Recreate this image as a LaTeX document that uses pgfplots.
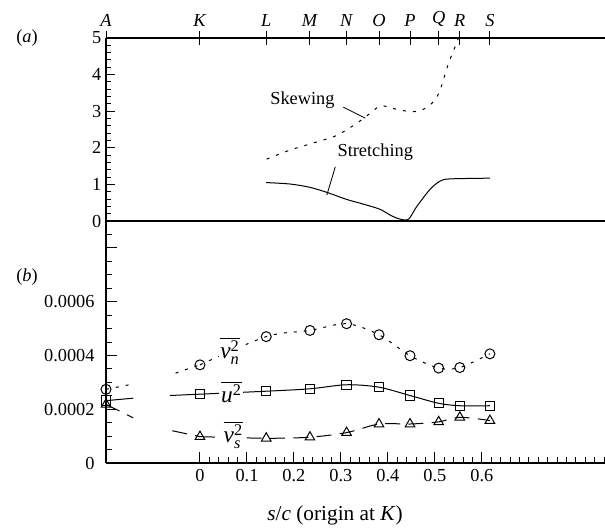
\documentclass[border=0pt]{standalone}
\usepackage{pgfplots}
\pgfplotsset{compat=1.18}
\usepackage{fontspec}
\setmainfont{Liberation Serif}
\newcommand{\tl}{\fontsize{11}{13}\selectfont}
\begin{document}
\fontsize{11}{13}\selectfont
\begin{tikzpicture}
\path[use as bounding box] (0,0) rectangle (363pt,318.6pt);
\pgfplotsset{
  every axis/.append style={scale only axis, width=299.4pt, xmin=-0.2, xmax=0.862,
    anchor=south west, clip mode=individual,
    every tick/.style={black, line width=0.6pt}},
  dotsty/.style={black, line width=0.6pt, dash pattern=on 1.8pt off 4.2pt},
  dashsty/.style={black, line width=0.6pt, dash pattern=on 9pt off 5pt},
  solsty/.style={black, line width=0.6pt},
}
% ---------------- Panel (a) ----------------
\begin{axis}[at={(63.6pt,186pt)}, height=109.8pt, ymin=0, ymax=5,
  axis x line=none, axis y line*=left, axis line style={line width=1.3pt},
  ytick={0,1,2,3,4,5}, yticklabels={\tl 0,\tl 1,\tl 2,\tl 3,\tl 4,\tl 5},
  minor ytick={0.2,0.4,0.6,0.8,1.2,1.4,1.6,1.8,2.2,2.4,2.6,2.8,3.2,3.4,3.6,3.8,4.2,4.4,4.6,4.8},
  tick align=inside, major tick length=5.4pt, minor tick length=3pt,
  yticklabel style={xshift=1pt},
]
\addplot[dotsty, smooth] coordinates {
 (0.142,1.69) (0.192,1.94) (0.238,2.12) (0.284,2.30) (0.312,2.49) (0.348,2.80)
 (0.383,3.14) (0.408,3.08) (0.447,2.99) (0.472,3.03) (0.497,3.26) (0.511,3.58)
 (0.529,4.31) (0.543,4.76) (0.556,5.2)};
\addplot[solsty, smooth] coordinates {
 (0.141,1.05) (0.192,1.01) (0.234,0.92) (0.273,0.77) (0.312,0.59) (0.348,0.46)
 (0.383,0.32) (0.408,0.14) (0.426,0.05) (0.444,0.05) (0.461,0.39) (0.490,0.87)
 (0.511,1.09) (0.532,1.15) (0.617,1.17)};
\draw[line width=1.5pt] (rel axis cs:0,0) -- (rel axis cs:1,0);
\node at (axis cs:0.218,3.31) {Skewing};
\draw[line width=0.5pt] (axis cs:0.305,3.11) -- (axis cs:0.352,2.81);
\node at (axis cs:0.373,1.87) {Stretching};
\draw[line width=0.5pt] (axis cs:0.288,1.48) -- (axis cs:0.270,0.71);
\end{axis}
% top letters / ticks
\begin{axis}[at={(63.6pt,186pt)}, height=109.8pt, ymin=0, ymax=5,
  axis y line=none, axis x line*=top, axis line style={line width=1.5pt},
  xtick={-0.2,0,0.141,0.234,0.312,0.381,0.447,0.508,0.553,0.617},
  xticklabels={\tl\textit{A},\tl\textit{K},\tl\textit{L},\tl\textit{M},\tl\textit{N},\tl\textit{O},\tl\textit{P},\tl\textit{Q},\tl\textit{R},\tl\textit{S}},
  tick align=center, major tick length=8.4pt,
  xticklabel style={yshift=-1pt},
]
\end{axis}
% ---------------- Panel (b) ----------------
\begin{axis}[at={(63.6pt,40.8pt)}, height=145.2pt, ymin=0, ymax=0.0009,
  axis x line*=bottom, axis y line*=left, axis line style={line width=1.3pt},
  xtick={0,0.1,0.2,0.3,0.4,0.5,0.6}, xticklabels={\tl 0,\tl 0.1,\tl 0.2,\tl 0.3,\tl 0.4,\tl 0.5,\tl 0.6},
  minor xtick={0.02,0.04,0.06,0.08,0.12,0.14,0.16,0.18,0.22,0.24,0.26,0.28,0.32,0.34,0.36,0.38,0.42,0.44,0.46,0.48,0.52,0.54,0.56,0.58,0.62,0.64,0.66,0.68,0.7,0.72,0.74,0.76,0.78,0.8,0.82,0.84,0.86},
  ytick={0,0.0002,0.0004,0.0006,0.0008}, yticklabels={\tl 0,\tl 0.0002,\tl 0.0004,\tl 0.0006,{}},
  minor ytick={0.00005,0.0001,0.00015,0.00025,0.0003,0.00035,0.00045,0.0005,0.00055,0.00065,0.0007,0.00075,0.00085,0.0009},
  scaled y ticks=false,
  tick align=inside, major tick length=6.5pt, minor tick length=3.6pt,
  yticklabel style={xshift=-3pt},
]
% v_n^2 (circles)
\addplot[dotsty, smooth, mark=o, mark size=3pt, mark options={solid}] coordinates {
 (0,0.000365) (0.141,0.000470) (0.234,0.000493) (0.312,0.000518) (0.381,0.000477)
 (0.447,0.000399) (0.508,0.000353) (0.553,0.000355) (0.617,0.000406)};
\addplot[dotsty, smooth] coordinates {(-0.2,0.000274) (-0.171,0.000284) (-0.142,0.000294)};
\addplot[dotsty, smooth] coordinates {(-0.052,0.000334) (-0.026,0.000350) (0,0.000365)};
\addplot[only marks, mark=o, mark size=3pt, line width=0.6pt] coordinates {(-0.2,0.000274)};
% u^2 (squares)
\addplot[solsty, smooth, mark=square, mark size=2.8pt] coordinates {
 (0,0.000256) (0.141,0.000267) (0.234,0.000276) (0.312,0.000291) (0.381,0.000282)
 (0.447,0.000251) (0.508,0.000222) (0.553,0.000213) (0.617,0.000213)};
\addplot[solsty] coordinates {(-0.2,0.000232) (-0.142,0.000241)};
\addplot[solsty] coordinates {(-0.064,0.000251) (0,0.000256)};
\addplot[only marks, mark=square, mark size=2.8pt, line width=0.6pt] coordinates {(-0.2,0.000232)};
% v_s^2 (triangles)
\addplot[dashsty, smooth, mark=triangle, mark size=3.3pt, mark options={solid}] coordinates {
 (0,0.000098) (0.141,0.000092) (0.234,0.000096) (0.312,0.000113) (0.381,0.000145)
 (0.447,0.000145) (0.508,0.000153) (0.553,0.000170) (0.617,0.000158)};
\addplot[dashsty] coordinates {(-0.2,0.000218) (-0.142,0.000168)};
\addplot[dashsty] coordinates {(-0.059,0.000120) (0,0.000098)};
\addplot[only marks, mark=triangle, mark size=3.3pt, line width=0.6pt] coordinates {(-0.2,0.000218)};
% labels
\node[fill=white, inner sep=1pt, font=\fontsize{14}{16}\selectfont] at (axis cs:0.064,0.000417) {$\overline{\mathit{v}_{\mathit{n}}^{\mathrm{2}}}$};
\node[fill=white, inner sep=1pt, font=\fontsize{14}{16}\selectfont] at (axis cs:0.067,0.000264) {$\overline{\mathit{u}^{\mathrm{2}}}$};
\node[fill=white, inner sep=1pt, font=\fontsize{14}{16}\selectfont] at (axis cs:0.071,0.000104) {$\overline{\mathit{v}_{\mathit{s}}^{\mathrm{2}}}$};
\end{axis}
\node at (16.2pt,295.8pt) {(\textit{a})};
\node at (16.2pt,152.4pt) {(\textit{b})};
\node[font=\fontsize{12.8}{15}\selectfont] at (201pt,9.6pt) {\textit{s}/\textit{c} (origin at \textit{K})};
\end{tikzpicture}
\end{document}
